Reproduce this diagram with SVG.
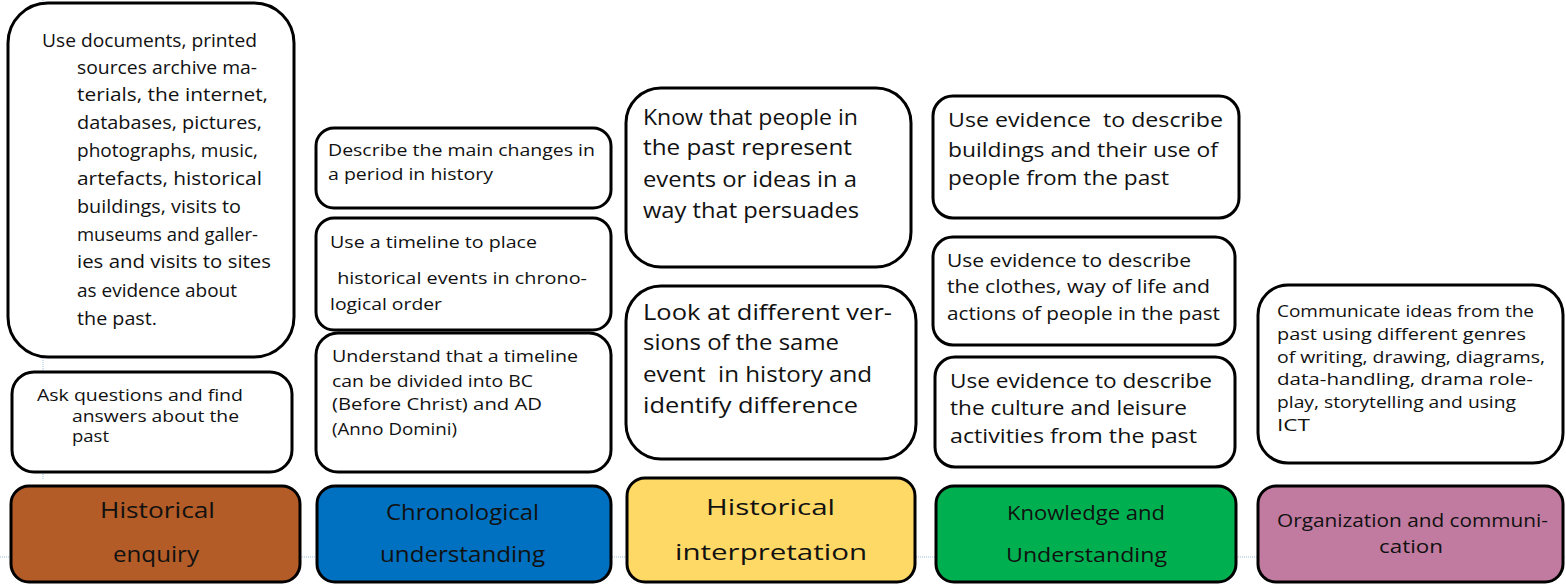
<svg xmlns="http://www.w3.org/2000/svg" width="1566" height="584" viewBox="0 0 1566 584">
  <style>
    .card { fill: #ffffff; stroke: #000000; stroke-width: 3; }
    .head { stroke: #000000; stroke-width: 3; }
    .guide { stroke: #9dc3e6; stroke-width: 1; stroke-dasharray: 1 1; fill: none; }
    text { font-family: "Open Sans", "Liberation Sans", sans-serif; fill: #111111; white-space: pre; }
    .t16 { font-size: 16.5px; }
    .t17 { font-size: 17px; }
    .t18 { font-size: 18px; }
    .t19 { font-size: 19px; }
    .t20 { font-size: 20px; }
    .t21 { font-size: 21px; }
    .t22 { font-size: 22px; }
  </style>

  <!-- layout guides -->
  <g id="guides">
    <line class="guide" x1="43" y1="0" x2="43" y2="480"/>
    <line class="guide" x1="0" y1="557" x2="1566" y2="557"/>
  </g>

  <g id="connectors"></g>

  <!-- Historical enquiry column -->
  <g id="enquiry-sources" class="t18">
    <rect class="card" x="8" y="3" width="286" height="354" rx="40"/>
    <text x="42" y="47" textLength="215" lengthAdjust="spacingAndGlyphs">Use documents, printed</text>
    <text x="77" y="74" textLength="180" lengthAdjust="spacingAndGlyphs">sources archive ma-</text>
    <text x="77" y="101" textLength="191" lengthAdjust="spacingAndGlyphs">terials, the internet,</text>
    <text x="77" y="129" textLength="185" lengthAdjust="spacingAndGlyphs">databases, pictures,</text>
    <text x="77" y="157" textLength="181" lengthAdjust="spacingAndGlyphs">photographs, music,</text>
    <text x="77" y="185" textLength="185" lengthAdjust="spacingAndGlyphs">artefacts, historical</text>
    <text x="77" y="213" textLength="164" lengthAdjust="spacingAndGlyphs">buildings, visits to</text>
    <text x="77" y="241" textLength="181" lengthAdjust="spacingAndGlyphs">museums and galler-</text>
    <text x="77" y="268" textLength="194" lengthAdjust="spacingAndGlyphs">ies and visits to sites</text>
    <text x="77" y="297" textLength="160" lengthAdjust="spacingAndGlyphs">as evidence about</text>
    <text x="77" y="325" textLength="80" lengthAdjust="spacingAndGlyphs">the past.</text>
  </g>
  <g id="enquiry-questions" class="t17">
    <rect class="card" x="12" y="372" width="280" height="100" rx="22"/>
    <text x="37" y="401" textLength="206" lengthAdjust="spacingAndGlyphs">Ask questions and find</text>
    <text x="72" y="422" textLength="167" lengthAdjust="spacingAndGlyphs">answers about the</text>
    <text x="72" y="442" textLength="37" lengthAdjust="spacingAndGlyphs">past</text>
  </g>
  <g id="head-enquiry" class="t21">
    <rect class="head" x="11" y="486" width="289" height="96" rx="18" fill="#b35c27"/>
    <text x="100" y="518" textLength="115" lengthAdjust="spacingAndGlyphs">Historical</text>
    <text x="113" y="562" textLength="86" lengthAdjust="spacingAndGlyphs">enquiry</text>
  </g>

  <!-- Chronological understanding column -->
  <g id="chrono-changes" class="t17">
    <rect class="card" x="316" y="128" width="295" height="80" rx="18"/>
    <text x="328" y="156" textLength="267" lengthAdjust="spacingAndGlyphs">Describe the main changes in</text>
    <text x="328" y="180" textLength="165" lengthAdjust="spacingAndGlyphs">a period in history</text>
  </g>
  <g id="chrono-timeline" class="t17">
    <rect class="card" x="316" y="218" width="295" height="112" rx="18"/>
    <text x="330" y="248" textLength="207" lengthAdjust="spacingAndGlyphs">Use a timeline to place</text>
    <text x="332" y="284" textLength="255" lengthAdjust="spacingAndGlyphs"> historical events in chrono-</text>
    <text x="330" y="310" textLength="112" lengthAdjust="spacingAndGlyphs">logical order</text>
  </g>
  <g id="chrono-bcad" class="t17">
    <rect class="card" x="316" y="333" width="295" height="139" rx="22"/>
    <text x="332" y="362" textLength="246" lengthAdjust="spacingAndGlyphs">Understand that a timeline</text>
    <text x="332" y="387" textLength="201" lengthAdjust="spacingAndGlyphs">can be divided into BC</text>
    <text x="332" y="410" textLength="210" lengthAdjust="spacingAndGlyphs">(Before Christ) and AD</text>
    <text x="332" y="435" textLength="125" lengthAdjust="spacingAndGlyphs">(Anno Domini)</text>
  </g>
  <g id="head-chrono" class="t21">
    <rect class="head" x="317" y="486" width="294" height="96" rx="18" fill="#0070c0"/>
    <text x="386" y="520" textLength="153" lengthAdjust="spacingAndGlyphs">Chronological</text>
    <text x="380" y="562" textLength="165" lengthAdjust="spacingAndGlyphs">understanding</text>
  </g>

  <!-- Historical interpretation column -->
  <g id="interp-persuade" class="t21">
    <rect class="card" x="626" y="88" width="285" height="179" rx="35"/>
    <text x="643" y="125" textLength="215" lengthAdjust="spacingAndGlyphs">Know that people in</text>
    <text x="643" y="155" textLength="209" lengthAdjust="spacingAndGlyphs">the past represent</text>
    <text x="643" y="187" textLength="214" lengthAdjust="spacingAndGlyphs">events or ideas in a</text>
    <text x="643" y="218" textLength="216" lengthAdjust="spacingAndGlyphs">way that persuades</text>
  </g>
  <g id="interp-versions" class="t21">
    <rect class="card" x="626" y="286" width="290" height="173" rx="35"/>
    <text x="643" y="320" textLength="249" lengthAdjust="spacingAndGlyphs">Look at different ver-</text>
    <text x="643" y="350" textLength="196" lengthAdjust="spacingAndGlyphs">sions of the same</text>
    <text x="643" y="382" textLength="229" lengthAdjust="spacingAndGlyphs">event  in history and</text>
    <text x="643" y="413" textLength="215" lengthAdjust="spacingAndGlyphs">identify difference</text>
  </g>
  <g id="head-interp" class="t22">
    <rect class="head" x="627" y="478" width="288" height="104" rx="18" fill="#ffd966"/>
    <text x="706" y="515" textLength="129" lengthAdjust="spacingAndGlyphs">Historical</text>
    <text x="675" y="560" textLength="192" lengthAdjust="spacingAndGlyphs">interpretation</text>
  </g>

  <!-- Knowledge and Understanding column -->
  <g id="know-buildings" class="t20">
    <rect class="card" x="933" y="96" width="306" height="122" rx="20"/>
    <text x="948" y="127" textLength="275" lengthAdjust="spacingAndGlyphs">Use evidence  to describe</text>
    <text x="948" y="157" textLength="270" lengthAdjust="spacingAndGlyphs">buildings and their use of</text>
    <text x="948" y="185" textLength="221" lengthAdjust="spacingAndGlyphs">people from the past</text>
  </g>
  <g id="know-clothes" class="t19">
    <rect class="card" x="933" y="237" width="302" height="108" rx="20"/>
    <text x="947" y="267" textLength="244" lengthAdjust="spacingAndGlyphs">Use evidence to describe</text>
    <text x="947" y="293" textLength="263" lengthAdjust="spacingAndGlyphs">the clothes, way of life and</text>
    <text x="947" y="320" textLength="273" lengthAdjust="spacingAndGlyphs">actions of people in the past</text>
  </g>
  <g id="know-culture" class="t20">
    <rect class="card" x="935" y="357" width="300" height="110" rx="20"/>
    <text x="950" y="388" textLength="262" lengthAdjust="spacingAndGlyphs">Use evidence to describe</text>
    <text x="950" y="415" textLength="237" lengthAdjust="spacingAndGlyphs">the culture and leisure</text>
    <text x="950" y="443" textLength="247" lengthAdjust="spacingAndGlyphs">activities from the past</text>
  </g>
  <g id="head-know" class="t20">
    <rect class="head" x="936" y="486" width="300" height="96" rx="18" fill="#00b050"/>
    <text x="1007" y="520" textLength="158" lengthAdjust="spacingAndGlyphs">Knowledge and</text>
    <text x="1006" y="562" textLength="161" lengthAdjust="spacingAndGlyphs">Understanding</text>
  </g>

  <!-- Organization and communication column -->
  <g id="org-communicate" class="t16">
    <rect class="card" x="1258" y="285" width="305" height="178" rx="30"/>
    <text x="1277" y="317" textLength="257" lengthAdjust="spacingAndGlyphs">Communicate ideas from the</text>
    <text x="1277" y="340" textLength="249" lengthAdjust="spacingAndGlyphs">past using different genres</text>
    <text x="1277" y="363" textLength="268" lengthAdjust="spacingAndGlyphs">of writing, drawing, diagrams,</text>
    <text x="1277" y="385" textLength="256" lengthAdjust="spacingAndGlyphs">data-handling, drama role-</text>
    <text x="1277" y="408" textLength="239" lengthAdjust="spacingAndGlyphs">play, storytelling and using</text>
    <text x="1277" y="431" textLength="33" lengthAdjust="spacingAndGlyphs">ICT</text>
  </g>
  <g id="head-org" class="t19">
    <rect class="head" x="1258" y="486" width="305" height="96" rx="18" fill="#c27ba0"/>
    <text x="1277" y="527" textLength="271" lengthAdjust="spacingAndGlyphs">Organization and communi-</text>
    <text x="1379" y="553" textLength="64" lengthAdjust="spacingAndGlyphs">cation</text>
  </g>
</svg>
